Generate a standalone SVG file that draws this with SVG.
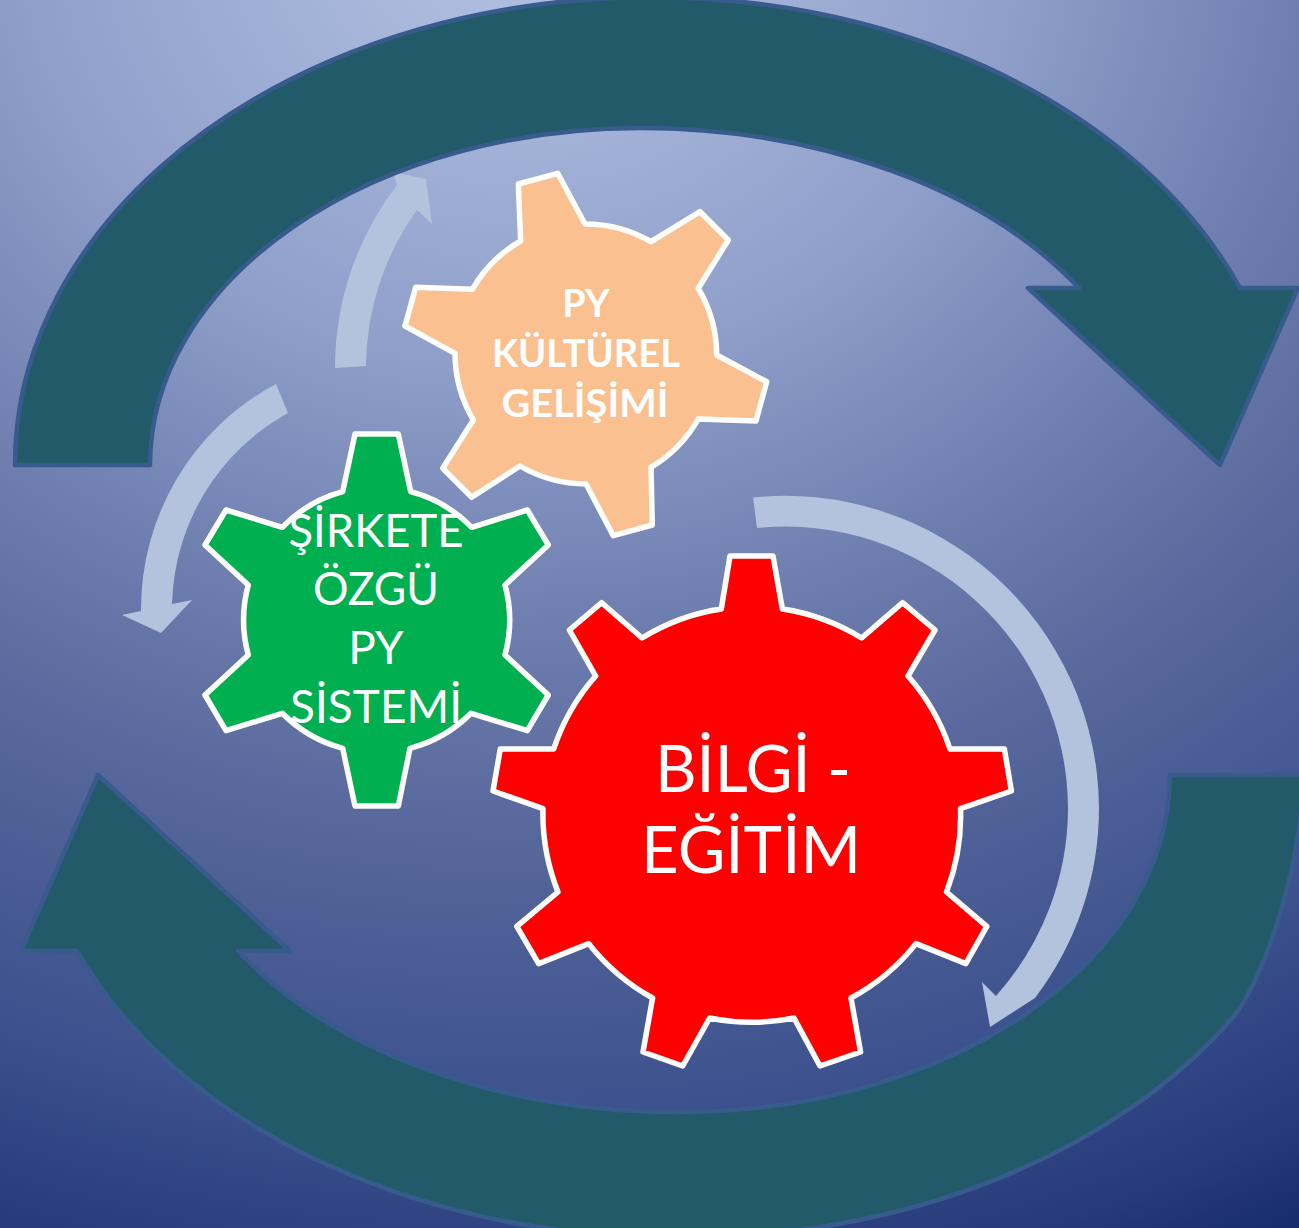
<svg xmlns="http://www.w3.org/2000/svg" width="1299" height="1228" viewBox="0 0 1299 1228">
<style>
.big{fill:#235a6a;stroke:#385b8d;stroke-width:4.5;stroke-linejoin:round}
.light{fill:#b3c2dd}
.gear{stroke:#fff;stroke-width:5.5;stroke-linejoin:round}
text{font-family:"Lato","Open Sans","Liberation Sans",sans-serif;fill:#fff;text-anchor:middle}
</style>
<defs>
<radialGradient id="bg" gradientUnits="userSpaceOnUse" cx="0" cy="0" r="1481" gradientTransform="translate(520 -80) scale(1.12 1)">
<stop offset="0" stop-color="#b5c3e3"/>
<stop offset="0.3" stop-color="#8f9fca"/>
<stop offset="0.47" stop-color="#6f7fb0"/>
<stop offset="0.6" stop-color="#5a6a9e"/>
<stop offset="0.7" stop-color="#4b5d95"/>
<stop offset="0.8" stop-color="#3d528e"/>
<stop offset="0.94" stop-color="#26397a"/>
<stop offset="1" stop-color="#172c6c"/>
</radialGradient>
</defs>
<rect width="1299" height="1228" fill="url(#bg)"/>
<g id="connectors">
<path class="light" d="M335,368 A300 300 0 0 1 397,185 L393,172 L426,179 L432,224 L417,210 A270 270 0 0 0 366,366 Z"/>
<path class="light" d="M276,384 A255 255 0 0 0 141,611 L122,615 L161,633 L192,600 L172,604 A225 225 0 0 1 288,413 Z"/>
<path class="light" d="M753,497.5 A314 314 0 0 1 1099,807 A314 314 0 0 1 1035,998 L990,1027 L982,982 L996,996 A283 283 0 0 0 1068,809 A283 283 0 0 0 757,528 Z"/>
<path class="big" d="M15,465 A636 467 0 0 1 1240,288 L1298,288 L1220,465 L1028,288 L1079,288 A516 337 0 0 0 640,128 A490 337 0 0 0 150,465 Z"/>
<path class="big" d="M1303,775 C1302,870 1262,983 1233,1017 A648 463 0 0 1 680,1238 A650 463 0 0 1 77,951 L21,951 L98,775 L290,951 L238,951 A515 337 0 0 0 675,1112 A490 337 0 0 0 1170,775 Z"/>
</g>
<g id="gear-kultur">
<path class="gear" fill="#fac090" d="M518.3,184 L557.7,173.3 L585,224 A131 131 0 0 1 651,241.7 L700,211.7 L728.3,240 L698.3,288.3 A131 131 0 0 1 716.7,355 L766.7,381.7 L756,421 L698.3,419 A131 131 0 0 1 651,467.3 L652.3,525 L613.3,535.7 L586,484 A131 131 0 0 1 520,466 L471.7,497.3 L442.7,468.3 L473.3,420 A131 131 0 0 1 455,353.3 L405,326 L415.7,287.3 L472.3,289.3 A131 131 0 0 1 520.7,241 Z"/>
<text font-size="38" font-weight="700" x="586" y="316.5">PY</text>
<text font-size="38" font-weight="700" x="586" y="366.5" textLength="188" lengthAdjust="spacingAndGlyphs">KÜLTÜREL</text>
<text font-size="38" font-weight="700" x="585" y="416.5" textLength="167" lengthAdjust="spacingAndGlyphs">GELİŞİMİ</text>
</g>
<g id="gear-sistem">
<path class="gear" fill="#00b050" d="M355,434 L398.3,434 L410.7,491.7 A133 133 0 0 1 471.7,527.3 L527.3,510 L548.3,545 L505,585 A133 133 0 0 1 505,655 L548.3,695 L527.3,730.7 L471,713.3 A133 133 0 0 1 410,748.3 L398.3,806 L355,806 L342.7,748.3 A133 133 0 0 1 282.3,713.3 L226,730.7 L205,695 L248.3,655 A133 133 0 0 1 248.3,585 L205,545 L226,510 L282.3,527.3 A133 133 0 0 1 342.7,491.7 Z"/>
<text font-size="46" x="376" y="546.7" textLength="175" lengthAdjust="spacingAndGlyphs">ŞİRKETE</text>
<text font-size="46" x="376" y="605" textLength="126" lengthAdjust="spacingAndGlyphs">ÖZGÜ</text>
<text font-size="46" x="376" y="664">PY</text>
<text font-size="46" x="376" y="722.7" textLength="172" lengthAdjust="spacingAndGlyphs">SİSTEMİ</text>
</g>
<g id="gear-egitim">
<path class="gear" fill="#f00" d="M730,556 L773,556 L782.4,609 A210 210 0 0 1 861.6,638 L902.6,602.7 L935,630 L908,676 A210 210 0 0 1 950,749 L1004.4,749 L1011.4,791 L960.5,808.6 A210 210 0 0 1 946.5,892 L986.8,926.4 L965.8,963.6 L916,943.6 A210 210 0 0 1 851,998 L860.6,1052 L820,1066 L794,1018 A210 210 0 0 1 709.7,1018 L682.7,1066 L643,1052 L652.6,998 A210 210 0 0 1 588.7,943.6 L538.6,963.6 L516.8,926.4 L558,892 A210 210 0 0 1 543,808.6 L493,791 L500.3,749 L553.7,749 A210 210 0 0 1 595.7,676 L569.4,630 L601.7,602.7 L642,638 A210 210 0 0 1 721.3,609 Z"/>
<text font-size="65" x="753" y="792" textLength="196" lengthAdjust="spacingAndGlyphs">BİLGİ -</text>
<text font-size="65" x="751" y="873" textLength="220" lengthAdjust="spacingAndGlyphs">EĞİTİM</text>
</g>
</svg>
